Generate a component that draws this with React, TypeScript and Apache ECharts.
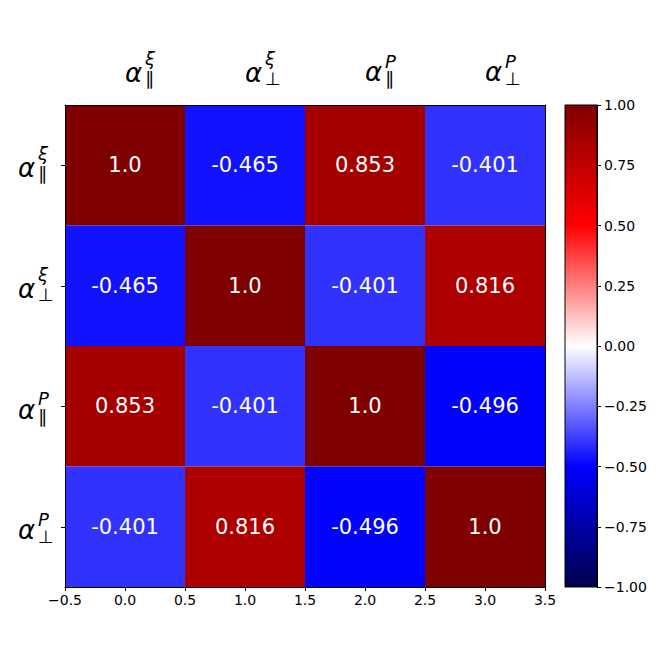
import React, { useEffect, useRef } from 'react';
import * as echarts from 'echarts';

const CATEGORIES = ['xi_par', 'xi_perp', 'P_par', 'P_perp'];
const LABEL_SUPS = ['ξ', 'ξ', 'P', 'P'];
const LABEL_SUBS = ['∥', '⊥', '∥', '⊥'];

const ROW_XI_PAR = [1.0, -0.465, 0.853, -0.401];
const ROW_XI_PERP = [-0.465, 1.0, -0.401, 0.816];
const ROW_P_PAR = [0.853, -0.401, 1.0, -0.496];
const ROW_P_PERP = [-0.401, 0.816, -0.496, 1.0];
const MATRIX = [ROW_XI_PAR, ROW_XI_PERP, ROW_P_PAR, ROW_P_PERP];

const COLOR_MIN = -1;
const COLOR_MAX = 1;
const COLOR_TICK_STEP = 0.25;
const X_MIN = -0.5;
const X_MAX = 3.5;
const X_TICK_STEP = 0.5;
const SEISMIC = ['#00004c', '#0000ff', '#ffffff', '#ff0000', '#7f0000'];

const FONT = "'DejaVu Sans', 'Noto Sans', sans-serif";

function fmtMinus(v: number, d: number): string {
  const s = Math.abs(v) < 1e-9 ? (0).toFixed(d) : v.toFixed(d);
  return s.replace('-', '\u2212');
}

function fmtCell(v: number): string {
  return Number.isInteger(v) ? v.toFixed(1) : String(v);
}

// line heights per label kind: [sup line, alpha line, sub line, spacer line]
const LINE_CFG: Record<string, number[]> = {
  x: [23, 6, 5, 12],
  p: [14, 8, 5, 2],
};

function buildRich(pad: number) {
  const rich: any = {};
  for (const k of ['x', 'p']) {
    const [h1, h2, h3, h4] = LINE_CFG[k];
    const base = { fontFamily: FONT, align: 'left', verticalAlign: 'middle', color: '#000', fontSize: 12 };
    rich[k + '1p'] = { ...base, width: pad, lineHeight: h1 };
    rich[k + '1g'] = { ...base, width: 20, lineHeight: h1 };
    rich[k + 's'] = { ...base, width: 12, lineHeight: h1, fontSize: 18, fontStyle: 'italic' };
    rich[k + '2p'] = { ...base, width: pad, lineHeight: h2 };
    rich[k + 'a'] = { ...base, width: 20, lineHeight: h2, fontSize: 26, fontStyle: 'italic' };
    rich[k + '2g'] = { ...base, width: 12, lineHeight: h2 };
    rich[k + '3p'] = { ...base, width: pad, lineHeight: h3 };
    rich[k + '3g'] = { ...base, width: 20, lineHeight: h3 };
    rich[k + 'b'] = { ...base, width: 12, lineHeight: h3, fontSize: 18 };
    rich[k + '4'] = { ...base, width: 1, lineHeight: h4 };
  }
  return rich;
}

function labelText(key: string, spacer: boolean): string {
  const i = CATEGORIES.indexOf(key);
  const k = i < 2 ? 'x' : 'p';
  let s =
    `{${k}1p|}{${k}1g|}{${k}s|${LABEL_SUPS[i]}}\n` +
    `{${k}2p|}{${k}a|α}{${k}2g|}\n` +
    `{${k}3p|}{${k}3g|}{${k}b|${LABEL_SUBS[i]}}`;
  if (spacer) s += `\n{${k}4|}`;
  return s;
}

export default function App() {
  const ref = useRef<HTMLDivElement>(null);

  useEffect(() => {
    document.body.style.margin = '0';
    if (!ref.current) return;
    const chart = echarts.init(ref.current, null, { renderer: 'svg' });

    const cells: number[][] = [];
    MATRIX.forEach((row, r) => row.forEach((v, c) => cells.push([c, r, v])));

    const axisLineStyle = { color: '#000', width: 1 };

    const option: any = {
      animation: false,
      backgroundColor: '#fff',
      grid: [
        { left: 65, top: 105, width: 480, height: 482 },
        { left: 565, top: 105, width: 32, height: 482 },
      ],
      xAxis: [
        {
          gridIndex: 0,
          type: 'value',
          position: 'bottom',
          min: X_MIN,
          max: X_MAX,
          interval: X_TICK_STEP,
          z: 10,
          axisLine: { show: true, onZero: false, lineStyle: axisLineStyle },
          axisTick: { show: true, length: 4, lineStyle: axisLineStyle },
          axisLabel: {
            color: '#000',
            fontSize: 14,
            fontFamily: FONT,
            margin: 6,
            formatter: (v: number) => fmtMinus(v, 1),
          },
          splitLine: { show: false },
        },
        {
          gridIndex: 0,
          type: 'category',
          position: 'top',
          data: CATEGORIES,
          z: 10,
          axisLine: { show: true, onZero: false, lineStyle: axisLineStyle },
          axisTick: { show: false },
          axisLabel: {
            interval: 0,
            margin: 24,
            formatter: (v: string) => labelText(v, false),
            rich: buildRich(32),
          },
          splitLine: { show: false },
        },
        {
          gridIndex: 1,
          type: 'value',
          min: 0,
          max: 1,
          show: false,
        },
      ],
      yAxis: [
        {
          gridIndex: 0,
          type: 'category',
          position: 'left',
          inverse: true,
          data: CATEGORIES,
          z: 10,
          axisLine: { show: true, onZero: false, lineStyle: axisLineStyle },
          axisTick: { show: true, alignWithLabel: true, length: 4, lineStyle: axisLineStyle },
          axisLabel: {
            interval: 0,
            margin: 15,
            formatter: (v: string) => labelText(v, true),
            rich: buildRich(0),
          },
          splitLine: { show: false },
        },
        {
          gridIndex: 0,
          type: 'category',
          position: 'right',
          inverse: true,
          data: CATEGORIES,
          z: 10,
          axisLine: { show: true, onZero: false, lineStyle: axisLineStyle },
          axisTick: { show: false },
          axisLabel: { show: false },
          splitLine: { show: false },
        },
        {
          gridIndex: 1,
          type: 'value',
          position: 'right',
          min: COLOR_MIN,
          max: COLOR_MAX,
          interval: COLOR_TICK_STEP,
          z: 10,
          axisLine: { show: true, onZero: false, lineStyle: axisLineStyle },
          axisTick: { show: true, length: 4, lineStyle: axisLineStyle },
          axisLabel: {
            color: '#000',
            fontSize: 14,
            fontFamily: FONT,
            margin: 7,
            formatter: (v: number) => fmtMinus(v, 2),
          },
          splitLine: { show: false },
        },
      ],
      visualMap: {
        type: 'continuous',
        show: false,
        min: COLOR_MIN,
        max: COLOR_MAX,
        dimension: 2,
        seriesIndex: 0,
        inRange: { color: SEISMIC },
      },
      series: [
        {
          type: 'custom',
          xAxisIndex: 0,
          yAxisIndex: 0,
          encode: { x: 0, y: 1 },
          data: cells,
          renderItem: (_params: any, api: any) => {
            const x = api.value(0);
            const y = api.value(1);
            const v = api.value(2);
            const c = api.coord([x, y]);
            const s = api.size([1, 1]);
            return {
              type: 'group',
              children: [
                {
                  type: 'rect',
                  shape: { x: c[0] - s[0] / 2, y: c[1] - s[1] / 2, width: s[0], height: s[1] },
                  style: { fill: api.visual('color') },
                },
                {
                  type: 'text',
                  x: c[0],
                  y: c[1],
                  style: {
                    text: fmtCell(v),
                    fill: '#fff',
                    fontSize: 21,
                    fontFamily: FONT,
                    align: 'center',
                    verticalAlign: 'middle',
                  },
                },
              ],
            };
          },
        },
        {
          type: 'custom',
          xAxisIndex: 2,
          yAxisIndex: 2,
          encode: { x: 0, y: 1 },
          data: [[0, COLOR_MIN]],
          renderItem: (_params: any, api: any) => {
            const p1 = api.coord([0, COLOR_MAX]);
            const p2 = api.coord([1, COLOR_MIN]);
            const n = SEISMIC.length - 1;
            const stops = SEISMIC.map((col, i) => ({ offset: 1 - i / n, color: col })).reverse();
            return {
              type: 'rect',
              shape: { x: p1[0], y: p1[1], width: p2[0] - p1[0], height: p2[1] - p1[1] },
              style: {
                fill: new echarts.graphic.LinearGradient(0, 0, 0, 1, stops),
                stroke: '#000',
                lineWidth: 1,
              },
            };
          },
        },
      ],
    };

    chart.setOption(option);
    return () => chart.dispose();
  }, []);

  return <div ref={ref} style={{ width: 664, height: 664 }} />;
}
